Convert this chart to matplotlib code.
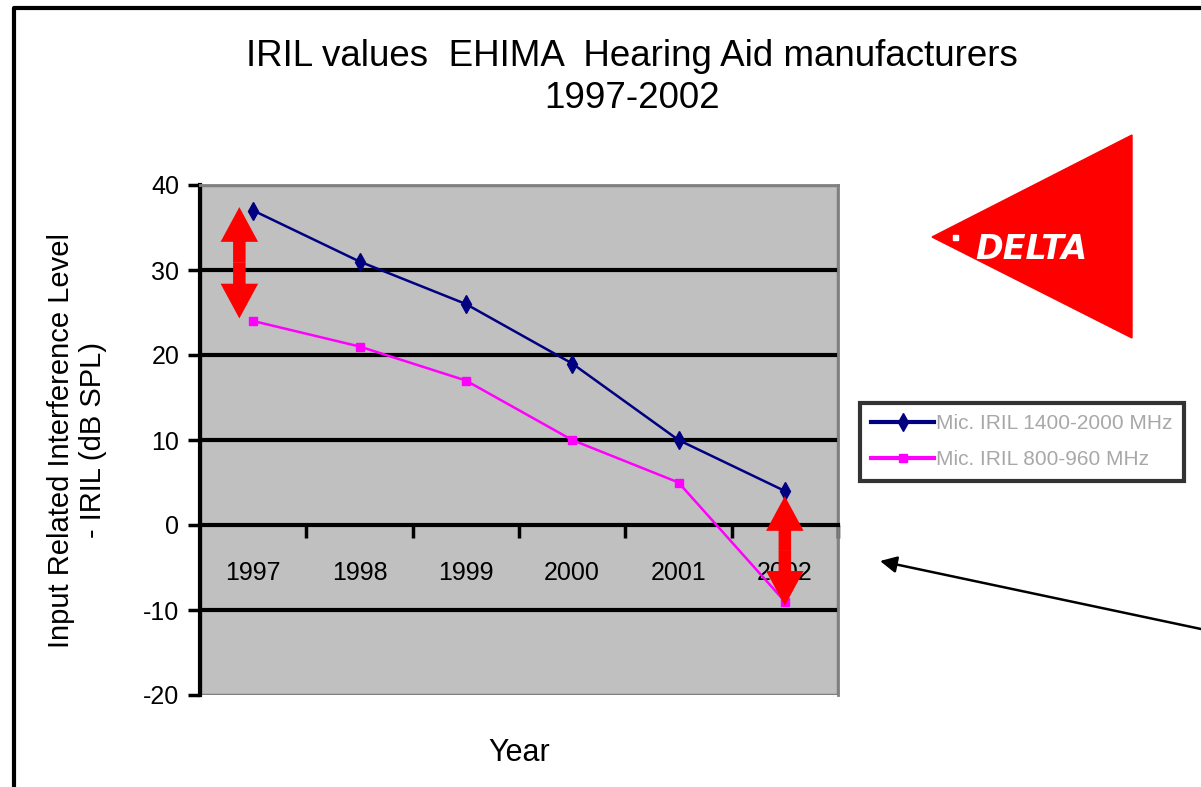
import matplotlib.pyplot as plt
from matplotlib.patches import FancyArrowPatch, Polygon, Rectangle
from matplotlib.lines import Line2D

# data
years = ["1997", "1998", "1999", "2000", "2001", "2002"]
iril_1400_2000 = [37, 31, 26, 19, 10, 4]
iril_800_960 = [24, 21, 17, 10, 5, -9]
series_names = ["Mic. IRIL 1400-2000 MHz", "Mic. IRIL 800-960 MHz"]
y_ticks = [40, 30, 20, 10, 0, -10, -20]

plt.rcParams['font.family'] = ['Liberation Sans', 'DejaVu Sans']
plt.rcParams['axes.unicode_minus'] = False

W, H = 1201, 787
fig = plt.figure(figsize=(W / 100, H / 100), dpi=100)
fig.patch.set_facecolor('white')

# plot area placed in pixels
def px_axes(x0, y0, x1, y1):
    return [x0 / W, 1 - y1 / H, (x1 - x0) / W, (y1 - y0) / H]

ax = fig.add_axes(px_axes(200, 185, 838, 695))
ax.set_facecolor('#C0C0C0')

x = list(range(len(years)))
ax.plot(x, iril_1400_2000, color='#000080', lw=1.8, marker='d', ms=9,
        label=series_names[0], zorder=4)
ax.plot(x, iril_800_960, color='#FF00FF', lw=1.8, marker='s', ms=6,
        label=series_names[1], zorder=4)

ax.set_xlim(-0.5, len(years) - 0.5)
ax.set_ylim(-20, 40)
ax.set_yticks(y_ticks)
ax.tick_params(axis='y', direction='out', length=9, width=2.5, labelsize=18, pad=6)

# horizontal gridlines (not on the frame edges)
for v in y_ticks:
    if v not in (40, -20, 0):
        ax.axhline(v, color='black', lw=3, zorder=2)

# category axis crosses at zero
ax.spines['bottom'].set_position(('data', 0))
ax.spines['bottom'].set_linewidth(3)
ax.spines['bottom'].set_zorder(3)
ax.spines['left'].set_linewidth(3)
ax.spines['left'].set_color('black')
for s in ('top', 'right'):
    ax.spines[s].set_color('#808080')
    ax.spines[s].set_linewidth(2)
ax.add_patch(Rectangle((0, 0), 1, 1, transform=ax.transAxes, fill=False,
                       edgecolor='#808080', lw=2.5, zorder=1))

ax.set_xticks([i + 0.5 for i in x])
ax.set_xticklabels([])
ax.tick_params(axis='x', which='major', direction='out', length=9, width=2.5)
ax.set_xticks(x, years, minor=True)
ax.tick_params(axis='x', which='minor', length=0, labelsize=18, pad=26)

ax.set_xlabel("Year", fontsize=22)
ax.xaxis.set_label_coords(0.5, -0.085)
ax.set_ylabel("Input Related Interference Level\n- IRIL (dB SPL)", fontsize=21,
              linespacing=1.2)
ax.yaxis.set_label_coords(-0.145, 0.5)

# red double-headed arrows between the two series
def red_arrow(xp, y_top, y_bot):
    ymid = (y_top + y_bot) / 2
    for yend in (y_top, y_bot):
        ax.add_patch(FancyArrowPatch((xp, ymid), (xp, yend),
                                     arrowstyle='simple,head_length=25,head_width=27,tail_width=9',
                                     mutation_scale=1, color='#FF0000', lw=0,
                                     shrinkA=0, shrinkB=0, zorder=6, clip_on=False))

red_arrow(-0.13, iril_1400_2000[0] + 0.4, iril_800_960[0] + 0.3)
red_arrow(5, iril_1400_2000[-1] - 0.6, iril_800_960[-1] - 0.5)

# title
fig.text(632 / W, 1 - 57 / H, "IRIL values  EHIMA  Hearing Aid manufacturers",
         ha='center', va='center', fontsize=26.5)
fig.text(632 / W, 1 - 98 / H, "1997-2002", ha='center', va='center', fontsize=26.5)

# legend
leg = fig.legend(loc='upper left', bbox_to_anchor=(860 / W, 1 - 403 / H),
                 frameon=True, fancybox=False, fontsize=15, labelcolor='#A8A8A8',
                 handlelength=3.0, borderpad=0.55, labelspacing=0.8, handletextpad=0.1,
                 borderaxespad=0)
leg.get_frame().set_edgecolor('black')
leg.get_frame().set_linewidth(3)
for ln in leg.get_lines():
    ln.set_linewidth(3)

# DELTA logo
fig.patches.append(Polygon([(932 / W, 1 - 237 / H), (1132 / W, 1 - 135 / H),
                            (1132 / W, 1 - 338 / H)], closed=True,
                           transform=fig.transFigure, color='#FF0000'))
fig.patches.append(Rectangle((953 / W, 1 - 240 / H), 5 / W, 5 / H,
                             transform=fig.transFigure, color='white'))
fig.text(1031 / W, 1 - 249 / H, "DELTA", color='white', fontsize=24,
         fontweight='bold', fontstyle='italic', ha='center', va='center',
         family='DejaVu Sans')

# outer frame lines
fig.lines.append(Line2D([14 / W, 14 / W, 1], [0, 1 - 8 / H, 1 - 8 / H],
                        transform=fig.transFigure, color='black', lw=3))

# black pointer arrow
fig.patches.append(FancyArrowPatch((1201, H - 629), (880, H - 561),
                                   transform=None, arrowstyle='-|>,head_length=10,head_width=5',
                                   mutation_scale=1, color='black', lw=1.8,
                                   shrinkA=0, shrinkB=0))

fig.savefig('out.png', dpi=100)
